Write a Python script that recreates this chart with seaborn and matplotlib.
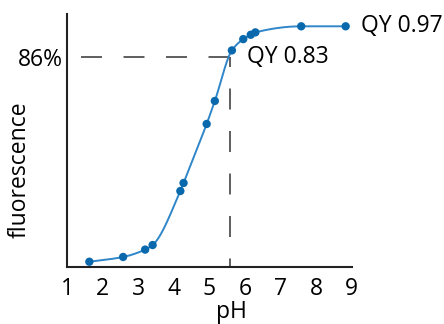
import numpy as np
import pandas as pd
import matplotlib
matplotlib.use("Agg")
import matplotlib.pyplot as plt
import seaborn as sns

# data
ph = [1.62, 2.57, 3.19, 3.40, 4.18, 4.27, 4.92, 5.15, 5.63, 5.95, 6.16, 6.29, 7.58, 8.83]
fluor = [-8.5, -6.3, -2.9, -0.8, 24.1, 27.8, 55.0, 65.6, 88.9, 94.1, 96.1, 97.2, 100.0, 100.0]
x_ticks = [1, 2, 3, 4, 5, 6, 7, 8, 9]
ref_ph = 5.57
ref_level = 86
ref_label = "86%"
qy_labels = ["QY 0.83", "QY 0.97"]

sns.set_theme(style="white")
plt.rcParams['font.family'] = ['Open Sans', 'DejaVu Sans']
plt.rcParams['text.color'] = 'black'
FS = 16.5

df = pd.DataFrame({"pH": ph, "fluorescence": fluor})

W, H = 444, 324
fig = plt.figure(figsize=(W / 100, H / 100), dpi=100)
ax = fig.add_axes([67.3 / W, 1 - 267.3 / H, (351.7 - 67.3) / W, (267.3 - 14) / H])

# smooth monotone curve through the data (PCHIP)
xs = np.array(ph); ys = np.array(fluor)
h = np.diff(xs); d = np.diff(ys) / h
m = np.zeros_like(ys)
for k in range(1, len(xs) - 1):
    if d[k - 1] * d[k] > 0:
        w1 = 2 * h[k] + h[k - 1]; w2 = h[k] + 2 * h[k - 1]
        m[k] = (w1 + w2) / (w1 / d[k - 1] + w2 / d[k])
m[0] = d[0]; m[-1] = d[-1]
xf, yf = [], []
for k in range(len(xs) - 1):
    t = np.linspace(0, 1, 30)
    h00 = 2*t**3 - 3*t**2 + 1; h10 = t**3 - 2*t**2 + t
    h01 = -2*t**3 + 3*t**2; h11 = t**3 - t**2
    xf.extend(xs[k] + t * h[k])
    yf.extend(h00*ys[k] + h10*h[k]*m[k] + h01*ys[k+1] + h11*h[k]*m[k+1])
curve = pd.DataFrame({"pH": xf, "fluorescence": yf})

ymin, ymax = -11.06, 105.67
lw = 1.1
on = 21 * 0.72 / lw
off = 21.5 * 0.72 / lw
ax.plot([1.377, ref_ph], [ref_level, ref_level], color="#333333", lw=lw,
        linestyle=(0, (on, off)), zorder=1)
ax.plot([ref_ph, ref_ph], [ref_level, ymin], color="#333333", lw=lw,
        linestyle=(11 * 0.72 / lw, (on, off)), zorder=1)

sns.lineplot(data=curve, x="pH", y="fluorescence", ax=ax, color="#2f86c8", lw=1.4, zorder=2)
sns.scatterplot(data=df, x="pH", y="fluorescence", ax=ax, color="#0a69ad", s=36, edgecolor="none", zorder=3)

ax.set_xlim(1, 9)
ax.set_ylim(ymin, ymax)
ax.set_xticks(x_ticks)
ax.set_xticklabels([str(v) for v in x_ticks], fontsize=FS)
ax.set_yticks([ref_level])
ax.set_yticklabels([ref_label], fontsize=FS)
ax.tick_params(axis="x", direction="out", length=6, width=1.3, pad=1, colors="#222222", labelcolor="black")
ax.tick_params(axis="y", length=0, pad=3, labelcolor="black")
for s in ["top", "right"]:
    ax.spines[s].set_visible(False)
for s in ["left", "bottom"]:
    ax.spines[s].set_color("#222222")
    ax.spines[s].set_linewidth(1.5)
ax.set_xlabel("")
ax.set_ylabel("")
fig.text(231.5 / W, 1 - 318 / H, "pH", ha="center", va="baseline", fontsize=FS)
fig.text(20 / W, 1 - 170 / H, "fluorescence", rotation=90, ha="center", va="center", fontsize=FS)

ax.text(6.06, ref_level, qy_labels[0], ha="left", va="center", fontsize=FS)
ax.text(9.26, 100, qy_labels[1], ha="left", va="center", fontsize=FS, clip_on=False)

fig.savefig("out.png", dpi=100)
